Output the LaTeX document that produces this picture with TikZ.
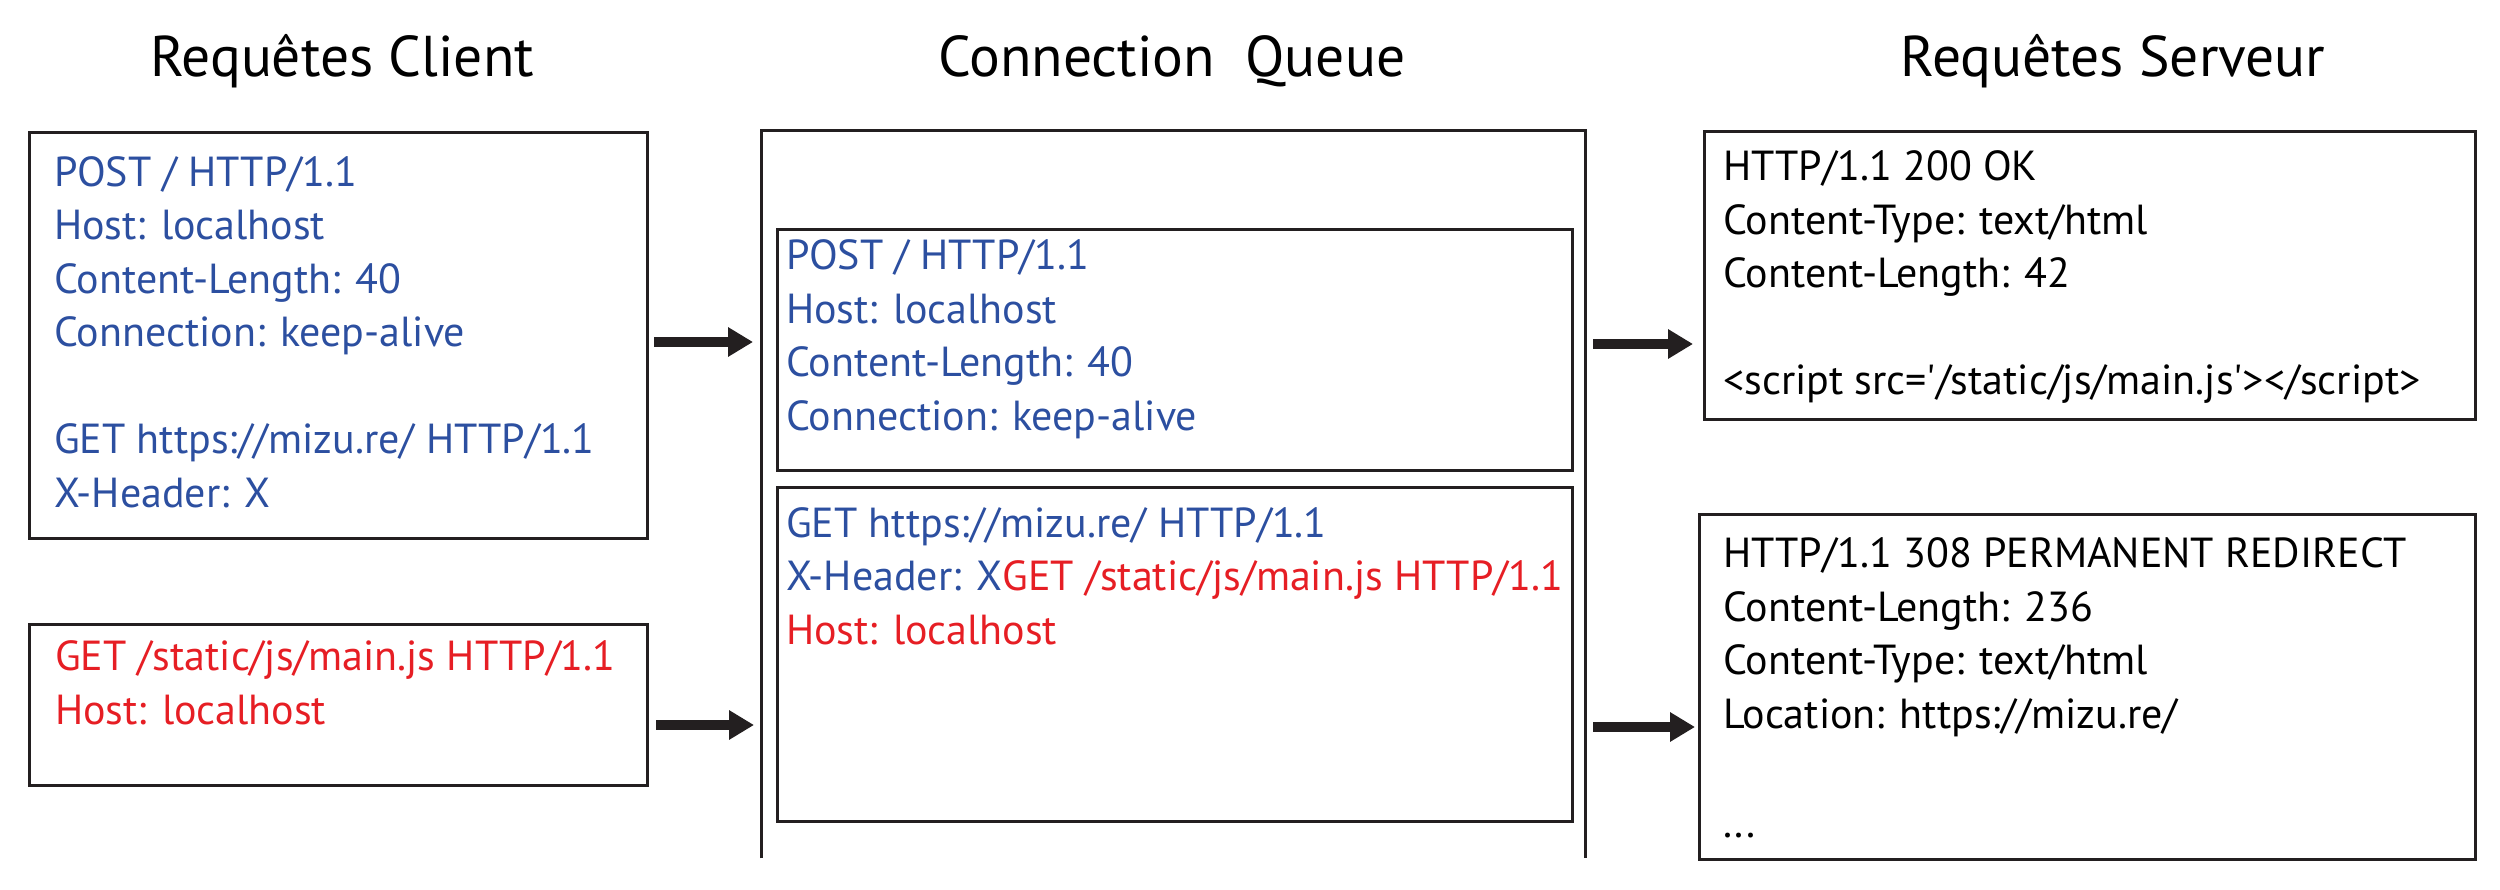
\documentclass[tikz,border=0pt]{standalone}
\usepackage{fontspec}
\newfontfamily\myfont{PT Sans}
\usetikzlibrary{arrows.meta}
\definecolor{qblue}{RGB}{44,79,160}
\definecolor{qred}{RGB}{230,30,36}
\definecolor{qink}{RGB}{35,31,32}
\begin{document}
\begin{tikzpicture}[x=1pt,y=-1pt,
  box/.style={draw=qink, line width=3pt, inner sep=0pt, anchor=north west},
  txt/.style={font=\myfont\fontsize{42}{53.5}\selectfont, align=left, anchor=base west, inner sep=0pt},
  ttl/.style={font=\myfont\fontsize{57.5}{60}\selectfont, anchor=base, inner sep=0pt},
  arr/.style={draw=qink, line width=10pt, -{Triangle[length=25pt,width=28pt]}}]
\useasboundingbox (0,0) rectangle (2500,890);
% titles
\node[ttl] (t1) at (342,77) {Requêtes Client};
\node[ttl] (t2) at (1172,77) {Connection\ \ Queue};
\node[ttl] (t3) at (2113,77) {Requêtes Serveur};
% boxes
\node[box, minimum width=618pt, minimum height=406pt] (c1) at (28,131) {};
\node[box, minimum width=618pt, minimum height=161pt] (c2) at (28,623) {};
\node[inner sep=0pt, anchor=north west, minimum width=824pt, minimum height=727pt] (q) at (761,131) {};
\draw[qink, line width=3pt] (q.south west) -- (q.north west) -- (q.north east) -- (q.south east);
\node[box, minimum width=795pt, minimum height=241pt] (q1) at (776,228) {};
\node[box, minimum width=795pt, minimum height=334pt] (q2) at (776,486) {};
\node[box, minimum width=771pt, minimum height=288pt] (s1) at (1703,130) {};
\node[box, minimum width=776pt, minimum height=345pt] (s2) at (1698,513) {};
% texts (anchored at the baseline of their last line)
\node[txt, text=qblue] (c1t) at (54,507) {POST / HTTP/1.1\\Host: localhost\\Content-Length: 40\\Connection: keep-alive\\[53.5pt]GET https://mizu.re/ HTTP/1.1\\X-Header: X};
\node[txt, text=qred] (c2t) at (55,724) {GET /static/js/main.js HTTP/1.1\\Host: localhost};
\node[txt, text=qblue] (q1t) at (786,430) {POST / HTTP/1.1\\Host: localhost\\Content-Length: 40\\Connection: keep-alive};
\node[txt, text=qblue] (q2t) at (786,644) {GET https://mizu.re/ HTTP/1.1\\X-Header: X\textcolor{qred}{GET /static/js/main.js HTTP/1.1}\\\textcolor{qred}{Host: localhost}};
\node[txt, text=black] (s1t) at (1723,395) {HTTP/1.1 200 OK\\Content-Type: text/html\\Content-Length: 42\\[53.5pt]<script src='/static/js/main.js'></script>};
\node[txt, text=black] (s2t) at (1723,837) {HTTP/1.1 308 PERMANENT REDIRECT\\Content-Length: 236\\Content-Type: text/html\\Location: https://mizu.re/\\[55.5pt]...};
% arrows
\coordinate (a1) at (0,342);
\coordinate (a2) at (0,725);
\coordinate (a3) at (0,344);
\coordinate (a4) at (0,727);
\draw[arr, shorten <=5pt, shorten >=8pt] (c1.east |- a1) -- (q.west |- a1);
\draw[arr, shorten <=7pt, shorten >=7pt] (c2.east |- a2) -- (q.west |- a2);
\draw[arr, shorten <=8pt, shorten >=10pt] (q.east |- a3) -- (s1.west |- a3);
\draw[arr, shorten <=8pt, shorten >=3pt] (q.east |- a4) -- (s2.west |- a4);
\end{tikzpicture}
\end{document}
